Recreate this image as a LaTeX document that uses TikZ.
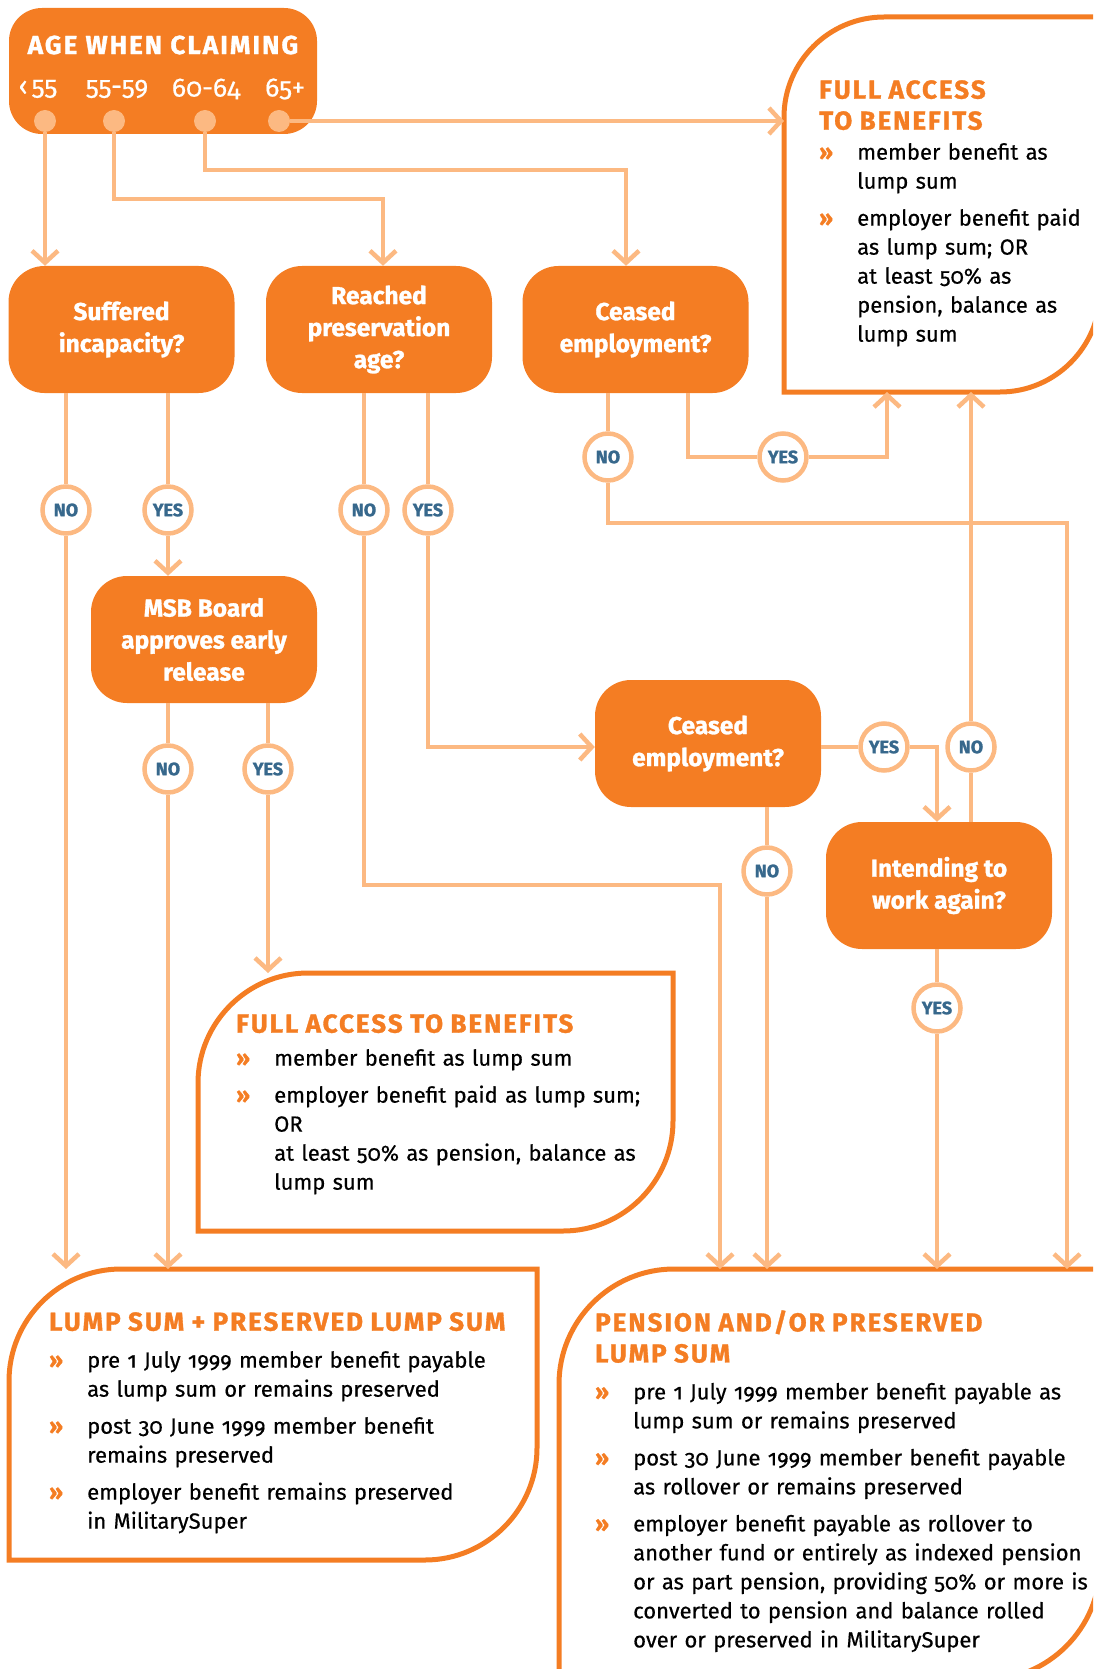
\documentclass[tikz,border=0pt]{standalone}
\usepackage{fontspec}
\setmainfont{Fira Sans}[Numbers=OldStyle, UprightFeatures={FakeBold=0.5}, BoldFeatures={FakeBold=1.2}]
\usepackage{xcolor}
\usepackage{tikz}
\usetikzlibrary{arrows.meta, positioning}

\definecolor{boxorange}{RGB}{244,125,35}
\definecolor{flowpeach}{RGB}{252,185,130}
\definecolor{answerblue}{RGB}{55,104,140}

% title and bullet lines of the outcome boxes
\newcommand{\boxtitle}[2][4pt]{{\fontsize{26}{31}\selectfont\bfseries\addfontfeatures{LetterSpace=7.5}\color{boxorange}#2\par}\vspace{#1}}
\newcommand{\benefit}[1]{\par\noindent\hangindent=38pt\hangafter=1\makebox[38pt][l]{\textcolor{boxorange}{\bfseries »}}#1\par\vspace{8pt}}
% outcome frame: x1, y1, x2, y2, corner radius (top left and bottom right rounded)
\newcommand{\leafbox}[5]{%
  \draw[outcome] (#1,#4) -- (#1,{#2+#5}) .. controls (#1,{#2+0.45*#5}) and ({#1+0.45*#5},#2) .. ({#1+#5},#2)
    -- (#3,#2) -- (#3,{#4-#5}) .. controls (#3,{#4-0.45*#5}) and ({#3-0.45*#5},#4) .. ({#3-#5},#4) -- cycle;}

\begin{document}
\begin{tikzpicture}[x=1pt, y=-1pt,
    question/.style={fill=boxorange, rounded corners=36pt, minimum width=226pt, minimum height=127pt,
      inner sep=0pt, text=white, align=center, font=\fontsize{24.5}{32}\selectfont\bfseries},
    answer/.style={circle, draw=flowpeach, line width=4.5pt, fill=white, minimum size=47pt, inner sep=0pt,
      text=answerblue, font=\fontsize{18}{18}\selectfont\bfseries},
    agedot/.style={circle, fill=flowpeach, minimum size=22pt, inner sep=0pt},
    agetext/.style={text=white, font=\fontsize{26.5}{28}\selectfont},
    flow/.style={draw=flowpeach, line width=4.5pt},
    flowarrow/.style={flow, -{Straight Barb[length=12pt, width=26pt]}},
    outcome/.style={draw=boxorange, line width=5pt},
    outcometext/.style={anchor=north west, inner sep=0pt, text width=560pt, align=left,
      font=\fontsize{22}{29}\selectfont}]

    \useasboundingbox (0,0) rectangle (1093,1669);
    \clip (0,0) rectangle (1093,1669);

    % =================================================================
    % 1. OUTCOME BOXES
    % =================================================================
    \leafbox{784}{17}{1100}{392}{100}
    \leafbox{198}{973}{673}{1231}{110}
    \leafbox{9}{1269}{537}{1560}{112}
    \leafbox{559}{1269}{1100}{1680}{115}

    \coordinate (fullTopLeft) at (784,0);
    \coordinate (fullTopBottom) at (0,392);
    \coordinate (fullMidTop) at (0,973);
    \coordinate (lumpTop) at (0,1269);
    \coordinate (pensionTop) at (0,1269);

    \node[outcometext] (fullTopText) at (819,80) {%
      \boxtitle[1pt]{FULL ACCESS\newline TO BENEFITS}
      \benefit{member benefit as\newline lump sum}
      \benefit{employer benefit paid\newline as lump sum; OR\newline at least 50\% as\newline pension, balance as\newline lump sum}};
    \node[outcometext] (fullMidText) at (236,1014) {%
      \boxtitle{FULL ACCESS TO BENEFITS}
      \benefit{member benefit as lump sum}
      \benefit{employer benefit paid as lump sum;\newline OR\newline at least 50\% as pension, balance as\newline lump sum}};
    \node[outcometext] (lumpText) at (49,1312) {%
      \boxtitle[8pt]{LUMP SUM + PRESERVED LUMP SUM}
      \benefit{pre 1 July 1999 member benefit payable\newline as lump sum or remains preserved}
      \benefit{post 30 June 1999 member benefit\newline remains preserved}
      \benefit{employer benefit remains preserved\newline in MilitarySuper}};
    \node[outcometext] (pensionText) at (595,1310) {%
      \boxtitle[8pt]{PENSION AND/OR PRESERVED\newline LUMP SUM}
      \benefit{pre 1 July 1999 member benefit payable as\newline lump sum or remains preserved}
      \benefit{post 30 June 1999 member benefit payable\newline as rollover or remains preserved}
      \benefit{employer benefit payable as rollover to\newline another fund or entirely as indexed pension\newline or as part pension, providing 50\% or more is\newline converted to pension and balance rolled\newline over or preserved in MilitarySuper}};

    % =================================================================
    % 2. AGE HEADER
    % =================================================================
    \node[fill=boxorange, rounded corners=33pt, minimum width=308pt, minimum height=126pt] (age) at (163,71) {};
    \node[text=white, font=\fontsize{26}{28}\selectfont\bfseries\addfontfeatures{LetterSpace=8}] (ageTitle) at (163,45) {AGE WHEN CLAIMING};
    \node[agetext] (ageA) at (38,89) {‹\kern4pt55};
    \node[agetext] (ageB) at (117,89) {55-59};
    \node[agetext] (ageC) at (206,89) {60-64};
    \node[agetext] (ageD) at (285,89) {65+};
    \node[agedot] (dotA) at (45,121) {};
    \node[agedot] (dotB) at (114,121) {};
    \node[agedot] (dotC) at (205,121) {};
    \node[agedot] (dotD) at (279,121) {};

    % =================================================================
    % 3. QUESTIONS
    % =================================================================
    \node[question] (suffer) at (121.5,329.5) {Suffered\\incapacity?};
    \node[question] (reach) at (379,329.5) {Reached\\preservation\\age?};
    \node[question] (ceaseA) at (635.5,329.5) {Ceased\\employment?};
    \node[question] (msb) at (204,639.5) {MSB Board\\approves early\\release};
    \node[question] (ceaseB) at (708,743.5) {Ceased\\employment?};
    \node[question] (intend) at (939,885.5) {Intending to\\work again?};

    % =================================================================
    % 4. YES / NO ANSWERS
    % =================================================================
    \node[answer] (sufferNo) at (66,510) {NO};
    \node[answer] (sufferYes) at (168,510) {YES};
    \node[answer] (reachNo) at (364,510) {NO};
    \node[answer] (reachYes) at (428,510) {YES};
    \node[answer] (ceaseANo) at (608,457) {NO};
    \node[answer] (ceaseAYes) at (783,457) {YES};
    \node[answer] (msbNo) at (168,769) {NO};
    \node[answer] (msbYes) at (268,769) {YES};
    \node[answer] (ceaseBYes) at (884,747) {YES};
    \node[answer] (ceaseBNo) at (767,871) {NO};
    \node[answer] (intendNo) at (971,747) {NO};
    \node[answer] (intendYes) at (937,1008) {YES};

    % bends of the connectors
    \coordinate (bendB) at (383,199);
    \coordinate (bendC) at (626,170);
    \coordinate (reachBend) at (720,885);
    \coordinate (ceaseANoBend) at (1067,523);
    \coordinate (ceaseAYesDrop) at (688,457);
    \coordinate (ceaseAYesRise) at (887,457);
    \coordinate (ceaseBYesBend) at (937,747);

    % =================================================================
    % 5. CONNECTORS
    % =================================================================
    \draw[flowarrow] (dotA) -- (dotA |- suffer.north);
    \draw[flowarrow] (dotB) |- (bendB) -- (bendB |- reach.north);
    \draw[flowarrow] (dotC) |- (bendC) -- (bendC |- ceaseA.north);
    \draw[flowarrow] (dotD) -- (dotD -| fullTopLeft);

    \draw[flow] (suffer.south -| sufferNo) -- (sufferNo);
    \draw[flowarrow] (sufferNo) -- (sufferNo |- lumpTop);
    \draw[flow] (suffer.south -| sufferYes) -- (sufferYes);
    \draw[flowarrow] (sufferYes) -- (sufferYes |- msb.north);

    \draw[flow] (reach.south -| reachNo) -- (reachNo);
    \draw[flowarrow] (reachNo) |- (reachBend) -- (reachBend |- pensionTop);
    \draw[flow] (reach.south -| reachYes) -- (reachYes);
    \draw[flowarrow] (reachYes) |- (ceaseB.west |- ceaseBYes);

    \draw[flow] (ceaseA.south -| ceaseANo) -- (ceaseANo);
    \draw[flowarrow] (ceaseANo) |- (ceaseANoBend) -- (ceaseANoBend |- pensionTop);
    \draw[flow] (ceaseA.south -| ceaseAYesDrop) -- (ceaseAYesDrop) -- (ceaseAYes);
    \draw[flowarrow] (ceaseAYes) -- (ceaseAYesRise) -- (ceaseAYesRise |- fullTopBottom);

    \draw[flow] (msb.south -| msbNo) -- (msbNo);
    \draw[flowarrow] (msbNo) -- (msbNo |- lumpTop);
    \draw[flow] (msb.south -| msbYes) -- (msbYes);
    \draw[flowarrow] (msbYes) -- (msbYes |- fullMidTop);

    \draw[flow] (ceaseB.east |- ceaseBYes) -- (ceaseBYes);
    \draw[flowarrow] (ceaseBYes) -- (ceaseBYesBend) -- (ceaseBYesBend |- intend.north);
    \draw[flow] (ceaseB.south -| ceaseBNo) -- (ceaseBNo);
    \draw[flowarrow] (ceaseBNo) -- (ceaseBNo |- pensionTop);

    \draw[flow] (intend.north -| intendNo) -- (intendNo);
    \draw[flowarrow] (intendNo) -- (intendNo |- fullTopBottom);
    \draw[flow] (intend.south -| intendYes) -- (intendYes);
    \draw[flowarrow] (intendYes) -- (intendYes |- pensionTop);

\end{tikzpicture}
\end{document}
